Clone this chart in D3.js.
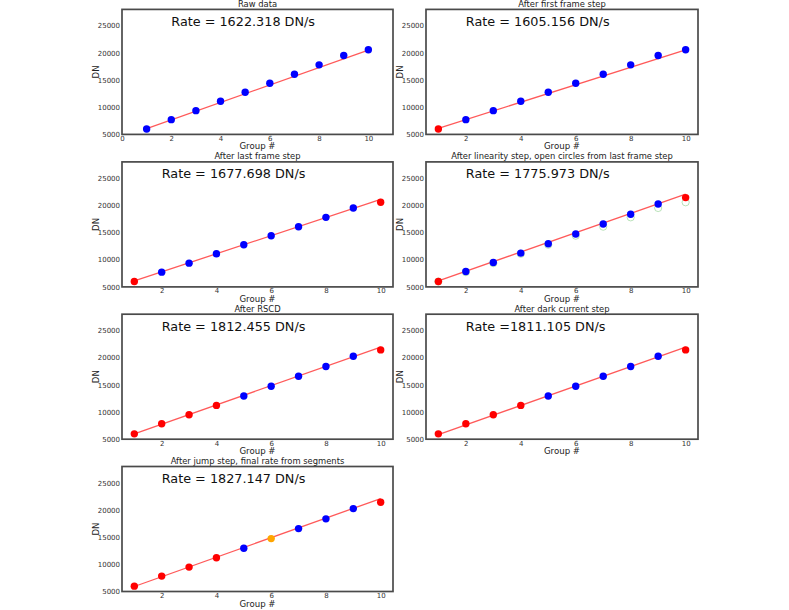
<!DOCTYPE html>
<html>
<head>
<meta charset="utf-8">
<script src="https://cdn.jsdelivr.net/npm/d3@7"></script>
<style>
  html, body { margin: 0; padding: 0; background: #fff; }
  svg { display: block; font-family: "DejaVu Sans", sans-serif; }
</style>
</head>
<body>
<svg id="chart" width="789" height="610"></svg>
<script>
const groups = [1, 2, 3, 4, 5, 6, 7, 8, 9, 10];
const rawDN = [5980, 7710, 9370, 11090, 12750, 14420, 16080, 17800, 19520, 20570];
const correctedDN = [5980, 7830, 9490, 11220, 12950, 14730, 16570, 18370, 20250, 21430];
const panelTitles = [
  "Raw data",
  "After first frame step",
  "After last frame step",
  "After linearity step, open circles from last frame step",
  "After RSCD",
  "After dark current step",
  "After jump step, final rate from segments"
];
const rateLabels = [
  "Rate = 1622.318 DN/s",
  "Rate = 1605.156 DN/s",
  "Rate = 1677.698 DN/s",
  "Rate = 1775.973 DN/s",
  "Rate = 1812.455 DN/s",
  "Rate =1811.105 DN/s",
  "Rate = 1827.147 DN/s"
];
// b = blue (good), r = red (flagged), o = orange (jump)
const pointFlags = [
  "bbbbbbbbbb",
  "rbbbbbbbbb",
  "rbbbbbbbbr",
  "rbbbbbbbbr",
  "rrrrbbbbbr",
  "rrrrbbbbbr",
  "rrrrbobbbr"
];
const panelData = ["raw", "raw", "raw", "corr", "corr", "corr", "corr"];
const openCircles = [false, false, false, true, false, false, false];
const fitStart = [6080, 6100, 6100, 6100, 6000, 5850, 5920];
const fitEnd = [20500, 20570, 21100, 22050, 21950, 21950, 22100];
const xTicksFirst = [0, 2, 4, 6, 8, 10];
const xTicksOther = [2, 4, 6, 8, 10];
const yTicks = [5000, 10000, 15000, 20000, 25000];

const colorOf = { b: "#0000ff", r: "#ff0000", o: "#ffa500" };

const svg = d3.select("#chart");
const colX = [[122, 393], [426, 698]];
const rowTop = [9.4, 161.9, 314.2, 466.5];
const panelH = 125;

panelTitles.forEach((title, i) => {
  const col = i % 2, row = Math.floor(i / 2);
  const [x0, x1] = colX[col];
  const y0 = rowTop[row], y1 = y0 + panelH;
  const xDomain = i === 0 ? [0, 11] : [0.55, 10.45];
  const x = d3.scaleLinear().domain(xDomain).range([x0, x1]);
  const y = d3.scaleLinear().domain([5000, 28000]).range([y1, y0]);
  const vals = panelData[i] === "raw" ? rawDN : correctedDN;
  const g = svg.append("g");

  const xAxis = d3.axisBottom(x).tickValues(i === 0 ? xTicksFirst : xTicksOther)
    .tickSize(0).tickPadding(1.5).tickFormat(d3.format("d"));
  const gx = g.append("g").attr("transform", `translate(0,${y1})`).call(xAxis);
  gx.select(".domain").remove();
  gx.selectAll("text").attr("font-size", 7).attr("fill", "#333")
    .attr("font-family", "DejaVu Sans");

  const yAxis = d3.axisLeft(y).tickValues(yTicks).tickSize(0).tickPadding(2)
    .tickFormat(d3.format("d"));
  const gy = g.append("g").attr("transform", `translate(${x0},0)`).call(yAxis);
  gy.select(".domain").remove();
  gy.selectAll("text").attr("font-size", 7).attr("fill", "#333")
    .attr("font-family", "DejaVu Sans");

  g.append("line")
    .attr("x1", x(groups[0])).attr("y1", y(fitStart[i]))
    .attr("x2", x(groups[groups.length - 1])).attr("y2", y(fitEnd[i]))
    .attr("stroke", "#ff0000").attr("stroke-opacity", 0.65).attr("stroke-width", 1.3);

  if (openCircles[i]) {
    g.selectAll("circle.open").data(groups).enter().append("circle")
      .attr("class", "open")
      .attr("cx", d => x(d)).attr("cy", (d, k) => y(rawDN[k]))
      .attr("r", 3.6).attr("fill", "none")
      .attr("stroke", "#8ccf8c").attr("stroke-opacity", 0.75).attr("stroke-width", 0.8);
  }

  g.selectAll("circle.pt").data(groups).enter().append("circle")
    .attr("class", "pt")
    .attr("cx", d => x(d)).attr("cy", (d, k) => y(vals[k]))
    .attr("r", 3.7)
    .attr("fill", (d, k) => colorOf[pointFlags[i][k]]);

  g.append("rect").attr("x", x0).attr("y", y0).attr("width", x1 - x0).attr("height", panelH)
    .attr("fill", "none").attr("stroke", "#4a4a4a").attr("stroke-width", 1.7);

  g.append("text").attr("x", (x0 + x1) / 2).attr("y", y0 - 2.5)
    .attr("text-anchor", "middle").attr("font-size", 8.4).attr("fill", "#222")
    .text(title);

  g.append("text").attr("x", x(2)).attr("y", y(25000))
    .attr("font-size", 12.8).attr("fill", "#111")
    .text(rateLabels[i]);

  g.append("text").attr("x", (x0 + x1) / 2).attr("y", y1 + 15)
    .attr("text-anchor", "middle").attr("font-size", 8.6).attr("fill", "#222")
    .text("Group #");
  g.append("text")
    .attr("transform", `translate(${x0 - 23},${(y0 + y1) / 2}) rotate(-90)`)
    .attr("text-anchor", "middle").attr("font-size", 8.6).attr("fill", "#222")
    .text("DN");
});
</script>
</body>
</html>
